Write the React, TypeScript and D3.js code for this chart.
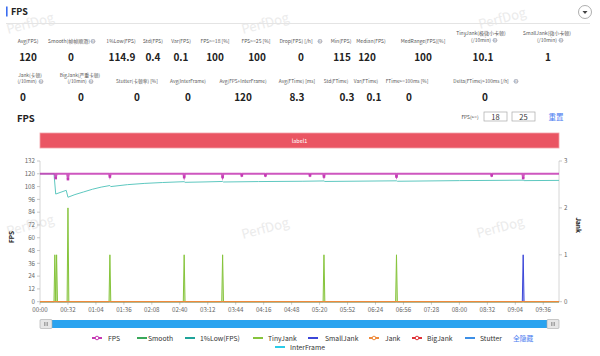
import React from "react";
import * as d3 from "d3";

// ---------- data ----------
const statLabels1 = [
  ["Avg(FPS)"], ["Smooth(帧帧顺滑)"], ["1%Low(FPS)"], ["Std(FPS)"], ["Var(FPS)"],
  ["FPS>=18 [%]"], ["FPS>=25 [%]"], ["Drop(FPS) [/h]"], ["Min(FPS)"], ["Median(FPS)"],
  ["MedRange(FPS)[%]"], ["TinyJank(极微小卡顿)", "(/10min)"], ["SmallJank(微小卡顿)", "(/10min)"],
];
const statHelp1 = [false, true, false, false, false, false, false, true, false, false, false, true, true];
const statValues1 = ["120", "0", "114.9", "0.4", "0.1", "100", "100", "0", "115", "120", "100", "10.1", "1"];

const statLabels2 = [
  ["Jank(卡顿)", "(/10min)"], ["BigJank(严重卡顿)", "(/10min)"], ["Stutter(卡顿率) [%]"], ["Avg(InterFrame)"],
  ["Avg(FPS+InterFrame)"], ["Avg(FTime) [ms]"], ["Std(FTime)"], ["Var(FTime)"], ["FTime>=100ms [%]"],
  ["Delta(FTime)>100ms [/h]"],
];
const statHelp2 = [true, true, false, false, false, false, false, false, false, true];
const statValues2 = ["0", "0", "0", "0", "120", "8.3", "0.3", "0.1", "0", "0"];

const xTickSeconds = [0, 32, 64, 96, 128, 160, 192, 224, 256, 288, 320, 352, 384, 416, 448, 480, 512, 544, 576];
const fpsTicks = [0, 12, 24, 36, 48, 60, 72, 84, 96, 108, 120, 132];
const jankTicks = [0, 1, 2, 3];

const fpsTimes = [0, 17, 18, 19, 31, 32, 33, 79, 80, 81, 164, 165, 166, 208, 209, 210, 230, 231, 232, 257, 258, 259, 308, 309, 310, 324, 325, 326, 407, 408, 409, 516, 517, 518, 552, 553, 554, 594];
const fpsValues = [120, 120, 116, 120, 120, 115, 120, 120, 117.5, 120, 120, 117, 120, 120, 117, 120, 120, 118.5, 120, 120, 118.5, 120, 120, 118.5, 120, 120, 117.5, 120, 120, 117.5, 120, 120, 118.5, 120, 120, 116, 120, 120];
const fpsDipTimes = [18, 32, 80, 165, 209, 231, 258, 309, 325, 408, 517, 553];
const fpsDipValues = [116, 115, 117.5, 117, 117, 118.5, 118.5, 118.5, 117.5, 117.5, 118.5, 116];

const lowTimes = [0, 16, 18, 30, 32, 40, 50, 60, 70, 80, 81, 100, 120, 140, 165, 166, 190, 209, 210, 250, 300, 325, 326, 408, 409, 480, 553, 554, 594];
const lowValues = [120, 120, 101, 104.5, 98, 100.5, 103, 105.5, 107.5, 109, 108, 109.8, 111, 111.8, 112.6, 112, 112.4, 112.8, 112.3, 112.7, 113, 113.3, 112.8, 113.4, 113, 113.6, 114, 113.6, 113.8];

const tinyJankTimes = [0, 16, 17, 18, 19, 20, 31, 32, 33, 79, 80, 81, 164, 165, 166, 208, 209, 210, 324, 325, 326, 407, 408, 409, 594];
const tinyJankValues = [0, 0, 1, 0, 1, 0, 0, 2, 0, 0, 1, 0, 0, 1, 0, 0, 1, 0, 0, 1, 0, 0, 1, 0, 0];
const smallJankTimes = [0, 552, 553, 554, 594];
const smallJankValues = [0, 0, 1, 0, 0];
const zeroTimes = [0, 594];
const zeroValues = [0, 0];

const legendRow1 = ["FPS", "Smooth", "1%Low(FPS)", "TinyJank", "SmallJank", "Jank", "BigJank", "Stutter"];
const legendRow2 = ["InterFrame"];

// ---------- layout / style ----------
const col1X = [28, 72, 121, 153, 181, 215, 256, 299, 341, 371, 423, 481, 547];
const val1X = [28, 71, 122, 153, 181, 215, 257, 301, 342, 367, 423, 483, 548];
const col2X = [30, 80, 137, 188, 243, 297, 336, 366, 407, 484];
const val2X = [23, 81, 137, 188, 243, 297, 347, 374, 409, 485];

const C = {
  fps: "#c53ab4",
  smooth: "#3aa85a",
  low: "#5ec8c0",
  lowLegend: "#1fa39a",
  tiny: "#86c43c",
  small: "#3b46d8",
  jank: "#ef8a3a",
  big: "#e0333a",
  stutter: "#3d8fe6",
  inter: "#2ccbe8",
  label: "#ea5563",
};
const legendColors: Record<string, string> = {
  FPS: C.fps, Smooth: C.smooth, "1%Low(FPS)": C.lowLegend, TinyJank: C.tiny, SmallJank: C.small,
  Jank: C.jank, BigJank: C.big, Stutter: C.stutter, InterFrame: C.inter,
};
const legendMarker: Record<string, boolean> = { FPS: true, Jank: true, BigJank: true };
const legendIconX1 = [92, 137, 185, 253, 308, 369, 412, 465];
const legendTextX1 = [108, 148, 200, 268, 325, 385, 427, 480];

const FONT = "'Noto Sans CJK SC', 'Open Sans', sans-serif";

const x0 = 40, x1 = 559, yTop = 161, yBot = 301.7;
const xScale = d3.scaleLinear().domain([0, 594]).range([x0, x1]);
const yFps = d3.scaleLinear().domain([0, 132]).range([yBot, yTop]);
const yJank = d3.scaleLinear().domain([0, 3]).range([yBot, yTop]);

const fmtTime = (s: number) => {
  const m = Math.floor(s / 60), ss = s % 60;
  return `${String(m).padStart(2, "0")}:${String(ss).padStart(2, "0")}`;
};

function zip(t: number[], v: number[]): [number, number][] {
  return t.map((tt, i) => [tt, v[i]]);
}

function Help({ x, y }: { x: number; y: number }) {
  return (
    <g>
      <circle cx={x} cy={y} r={2.4} fill="#b5b9c4" />
      <text x={x} y={y + 1.5} fontSize={3.8} fill="#fff" textAnchor="middle" fontWeight="bold" fontFamily={FONT}>?</text>
    </g>
  );
}

function Watermark({ x, y }: { x: number; y: number }) {
  return (
    <text x={x} y={y} fontSize={13} fill="#ebebeb" fontFamily={FONT} transform={`rotate(-15 ${x} ${y})`}>PerfDog</text>
  );
}

export default function App() {
  const fpsLine = d3.line<[number, number]>().x((d) => xScale(d[0])).y((d) => yFps(d[1]));
  const jankLine = d3.line<[number, number]>().x((d) => xScale(d[0])).y((d) => yJank(d[1]));
  const jankArea = d3.area<[number, number]>().x((d) => xScale(d[0])).y0(yBot).y1((d) => yJank(d[1]));

  const fpsData = zip(fpsTimes, fpsValues);
  const lowData = zip(lowTimes, lowValues);
  const tinyData = zip(tinyJankTimes, tinyJankValues);
  const smallData = zip(smallJankTimes, smallJankValues);
  const zeroData = zip(zeroTimes, zeroValues);

  const labelFill = "#555";
  return (
    <svg width={600} height={356} style={{ position: "fixed", left: 0, top: 0, background: "#fff" }} fontFamily={FONT}>
      <rect x={0} y={0} width={600} height={356} fill="#fff" />
      {/* watermarks */}
      <Watermark x={8} y={34} />
      <Watermark x={243} y={34} />
      <Watermark x={480} y={29} />
      <Watermark x={8} y={236} />
      <Watermark x={243} y={239} />
      <Watermark x={478} y={238} />

      {/* header */}
      <rect x={6} y={6.5} width={1.6} height={10} fill="#3b6df0" />
      <text x={11} y={15} fontSize={9} fontWeight="bold" fill="#222">FPS</text>
      <line x1={6} x2={590} y1={23.5} y2={23.5} stroke="#e4e4e4" />
      <circle cx={585} cy={12} r={6.5} fill="#fff" stroke="#999" strokeWidth={0.8} />
      <path d="M582.5,11 L587.5,11 L585,14 Z" fill="#444" />

      {/* stats row 1 */}
      {statLabels1.map((lines, i) => {
        const cx = col1X[i];
        const baseY = lines.length === 2 ? 35 : 43;
        return (
          <g key={"l1" + i}>
            {lines.map((ln, j) => (
              <text key={j} x={cx - (statHelp1[i] && lines.length === 1 ? 3 : 0)} y={baseY + j * 7} fontSize={5} fill={labelFill} textAnchor="middle">{ln}</text>
            ))}
            {statHelp1[i] && (lines.length === 1
              ? <Help x={cx + 21} y={baseY - 1.7} />
              : <Help x={cx + 14} y={baseY + 7 - 1.7} />)}
            <text x={val1X[i]} y={61} fontSize={10} fontWeight="bold" fill="#222" textAnchor="middle">{statValues1[i]}</text>
          </g>
        );
      })}

      {/* stats row 2 */}
      {statLabels2.map((lines, i) => {
        const cx = col2X[i];
        const baseY = lines.length === 2 ? 77 : 83;
        return (
          <g key={"l2" + i}>
            {lines.map((ln, j) => (
              <text key={j} x={cx - (statHelp2[i] && lines.length === 1 ? 3 : 0) - (lines.length === 2 && j === 1 ? 3 : 0)} y={baseY + j * 6.3} fontSize={4.8} fill={labelFill} textAnchor="middle">{ln}</text>
            ))}
            {statHelp2[i] && (lines.length === 1
              ? <Help x={cx + 32} y={baseY - 1.7} />
              : <Help x={cx + 11} y={baseY + 6.3 - 1.7} />)}
            <text x={val2X[i]} y={101} fontSize={10} fontWeight="bold" fill="#222" textAnchor="middle">{statValues2[i]}</text>
          </g>
        );
      })}

      {/* chart title & controls */}
      <text x={17} y={122} fontSize={9.5} fontWeight="bold" fill="#222">FPS</text>
      <text x={470} y={119} fontSize={4.8} fill="#444" textAnchor="middle">FPS(&gt;=)</text>
      <rect x={484} y={112} width={23} height={9} fill="#fff" stroke="#aaa" strokeWidth={0.7} />
      <text x={495.5} y={119.5} fontSize={7.5} fill="#333" textAnchor="middle">18</text>
      <rect x={512} y={112} width={23} height={9} fill="#fff" stroke="#aaa" strokeWidth={0.7} />
      <text x={523.5} y={119.5} fontSize={7.5} fill="#333" textAnchor="middle">25</text>
      <text x={556} y={120} fontSize={7.5} fill="#4a7cf0" textAnchor="middle">重置</text>

      {/* label bar */}
      <rect x={x0} y={133} width={x1 - x0} height={15} fill={C.label} stroke="#f3a0a8" strokeWidth={0.8} />
      <text x={(x0 + x1) / 2} y={142.5} fontSize={5.5} fill="#fff" textAnchor="middle">label1</text>

      {/* axes */}
      <line x1={x0} x2={x0} y1={yTop} y2={yBot} stroke="#ccc" strokeWidth={0.8} />
      <line x1={x1} x2={x1} y1={yTop} y2={yBot} stroke="#ccc" strokeWidth={0.8} />
      <line x1={x0} x2={x1} y1={yBot} y2={yBot} stroke="#ccc" strokeWidth={0.8} />
      {fpsTicks.map((t) => (
        <g key={"fy" + t}>
          <line x1={x0 - 3} x2={x0} y1={yFps(t)} y2={yFps(t)} stroke="#bbb" strokeWidth={0.8} />
          <text x={x0 - 5} y={yFps(t) + 2.2} fontSize={6.2} fill="#666" textAnchor="end">{t}</text>
        </g>
      ))}
      {jankTicks.map((t) => (
        <g key={"jy" + t}>
          <line x1={x1} x2={x1 + 3} y1={yJank(t)} y2={yJank(t)} stroke="#bbb" strokeWidth={0.8} />
          <text x={x1 + 5} y={yJank(t) + 2.2} fontSize={6.2} fill="#666">{t}</text>
        </g>
      ))}
      {xTickSeconds.map((s) => (
        <g key={"xt" + s}>
          <line x1={xScale(s)} x2={xScale(s)} y1={yBot} y2={yBot + 3} stroke="#bbb" strokeWidth={0.8} />
          <text x={xScale(s)} y={yBot + 10} fontSize={6.2} fill="#666" textAnchor="middle">{fmtTime(s)}</text>
        </g>
      ))}
      <text transform={`translate(14 237) rotate(-90)`} fontSize={6.5} fontWeight="bold" fill="#222" textAnchor="middle">FPS</text>
      <text transform={`translate(576 225) rotate(90)`} fontSize={6.5} fontWeight="bold" fill="#222" textAnchor="middle">Jank</text>

      {/* series */}
      <path d={jankArea(tinyData) || ""} fill={C.tiny} opacity={0.35} />
      <path d={jankLine(tinyData) || ""} fill="none" stroke={C.tiny} strokeWidth={1} />
      <path d={jankArea(smallData) || ""} fill={C.small} opacity={0.35} />
      <path d={jankLine(smallData) || ""} fill="none" stroke={C.small} strokeWidth={1} />
      <path d={fpsLine(zeroData) || ""} fill="none" stroke={C.smooth} strokeWidth={1.2} />
      <path d={jankLine(zeroData) || ""} fill="none" stroke={C.jank} strokeWidth={1.2} />
      <path d={fpsLine(lowData) || ""} fill="none" stroke={C.low} strokeWidth={1} />
      <path d={fpsLine(fpsData) || ""} fill="none" stroke={C.fps} strokeWidth={2} opacity={0.85} />
      {fpsDipTimes.map((t, i) => (
        <rect key={"dip" + i} x={xScale(t) - 1.3} y={yFps(fpsDipValues[i]) - 1.3} width={2.6} height={2.6} fill={C.fps} />
      ))}

      {/* data zoom slider */}
      <rect x={x0} y={320} width={x1 - x0} height={8} fill="#2aa3ef" />
      {[x0, x1 - 12].map((hx, i) => (
        <g key={"h" + i}>
          <rect x={hx} y={319.5} width={12} height={9} rx={1} fill="#e6e6e6" stroke="#aaa" strokeWidth={0.6} />
          {[-1.5, 0, 1.5].map((dx) => (
            <line key={dx} x1={hx + 6 + dx} x2={hx + 6 + dx} y1={322} y2={326} stroke="#777" strokeWidth={0.6} />
          ))}
        </g>
      ))}

      {/* legend */}
      {legendRow1.map((name, i) => {
        const ix = legendIconX1[i];
        const col = legendColors[name];
        return (
          <g key={"lg" + name}>
            <line x1={ix} x2={ix + 10} y1={338} y2={338} stroke={col} strokeWidth={2} />
            {legendMarker[name] && <circle cx={ix + 5} cy={338} r={1.8} fill="#fff" stroke={col} strokeWidth={1} />}
            <text x={legendTextX1[i]} y={340.5} fontSize={6.8} fill="#333">{name}</text>
          </g>
        );
      })}
      {legendRow2.map((name) => (
        <g key={"lg2" + name}>
          <line x1={275} x2={285} y1={347} y2={347} stroke={legendColors[name]} strokeWidth={2} />
          <text x={290} y={349.5} fontSize={6.8} fill="#333">{name}</text>
        </g>
      ))}
      <text x={513} y={340.5} fontSize={6.8} fill="#4a7cf0">全隐藏</text>
    </svg>
  );
}
